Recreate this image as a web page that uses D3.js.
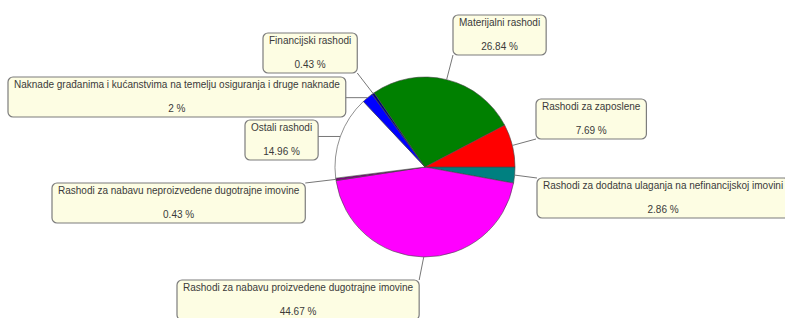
<!DOCTYPE html>
<html>
<head>
<meta charset="utf-8">
<script src="https://cdn.jsdelivr.net/npm/d3@7"></script>
<style>
  body { margin: 0; background: #fff; }
  svg { display: block; }
</style>
</head>
<body>
<div id="chart"></div>
<script>
// slices, clockwise from 3 o'clock
const categories = [
  'Rashodi za dodatna ulaganja na nefinancijskoj imovini',
  'Rashodi za nabavu proizvedene dugotrajne imovine',
  'Rashodi za nabavu neproizvedene dugotrajne imovine',
  'Ostali rashodi',
  'Naknade građanima i kućanstvima na temelju osiguranja i druge naknade',
  'Financijski rashodi',
  'Materijalni rashodi',
  'Rashodi za zaposlene'
];
const shares = [2.86, 44.67, 0.43, 14.96, 2, 0.43, 26.84, 7.69];
const shareLabels = ['2.86 %', '44.67 %', '0.43 %', '14.96 %', '2 %', '0.43 %', '26.84 %', '7.69 %'];
const colors = ['#008080', '#ff00ff', '#800080', '#ffffff', '#0000ff', '#000080', '#008000', '#ff0000'];

// top-left corner of each label box
const boxPos = [
  [537, 178], [177, 280], [52, 183], [245, 120],
  [8, 77], [263, 33], [453, 15], [536, 99]
];

const width = 785, height = 318;
const cx = 425, cy = 167, r = 90;

const svg = d3.select('#chart')
  .append('svg')
    .attr('width', width)
    .attr('height', height);

const data = categories.map((c, i) => ({ name: c, value: shares[i], label: shareLabels[i], color: colors[i], pos: boxPos[i] }));

const pie = d3.pie()
  .sort(null)
  .value(d => d.value)
  .startAngle(Math.PI / 2)
  .endAngle(Math.PI / 2 + 2 * Math.PI);

const arcs = pie(data);
const arc = d3.arc().innerRadius(0).outerRadius(r);
const rim = d3.arc().innerRadius(r).outerRadius(r);

const g = svg.append('g').attr('transform', `translate(${cx}, ${cy})`);

g.selectAll('path')
  .data(arcs)
  .enter().append('path')
    .attr('d', arc)
    .attr('fill', d => d.data.color)
    .attr('stroke', '#444')
    .attr('stroke-width', 0.6);

// label boxes
const labels = svg.append('g')
  .attr('font-family', 'Arial, "Liberation Sans", sans-serif')
  .attr('font-size', 10)
  .attr('fill', '#3a3a3a');

const boxH = 40, pad = 6;

arcs.forEach(a => {
  const d = a.data;
  const [bx, by] = d.pos;
  const lg = labels.append('g');

  const t1 = lg.append('text')
    .attr('y', by + 11)
    .text(d.name);
  const tw = t1.node().getComputedTextLength();
  const bw = tw + pad * 2;
  t1.attr('x', bx + bw / 2).attr('text-anchor', 'middle');

  lg.insert('rect', 'text')
    .attr('x', bx)
    .attr('y', by)
    .attr('width', bw)
    .attr('height', boxH)
    .attr('rx', 5)
    .attr('fill', '#fdfde3')
    .attr('stroke', '#7d7d7d')
    .attr('stroke-width', 1.2);

  lg.append('text')
    .attr('x', bx + bw / 2)
    .attr('y', by + boxH - 5)
    .attr('text-anchor', 'middle')
    .text(d.label);

  // leader line: rim point at the slice middle -> nearest point of the box
  const [px, py] = rim.centroid(a);
  const rx = cx + px, ry = cy + py;
  const ex = Math.max(bx, Math.min(bx + bw, rx));
  const ey = Math.max(by, Math.min(by + boxH, ry));
  svg.append('line')
    .attr('x1', rx).attr('y1', ry)
    .attr('x2', ex).attr('y2', ey)
    .attr('stroke', '#777')
    .attr('stroke-width', 1);
});
</script>
</body>
</html>
